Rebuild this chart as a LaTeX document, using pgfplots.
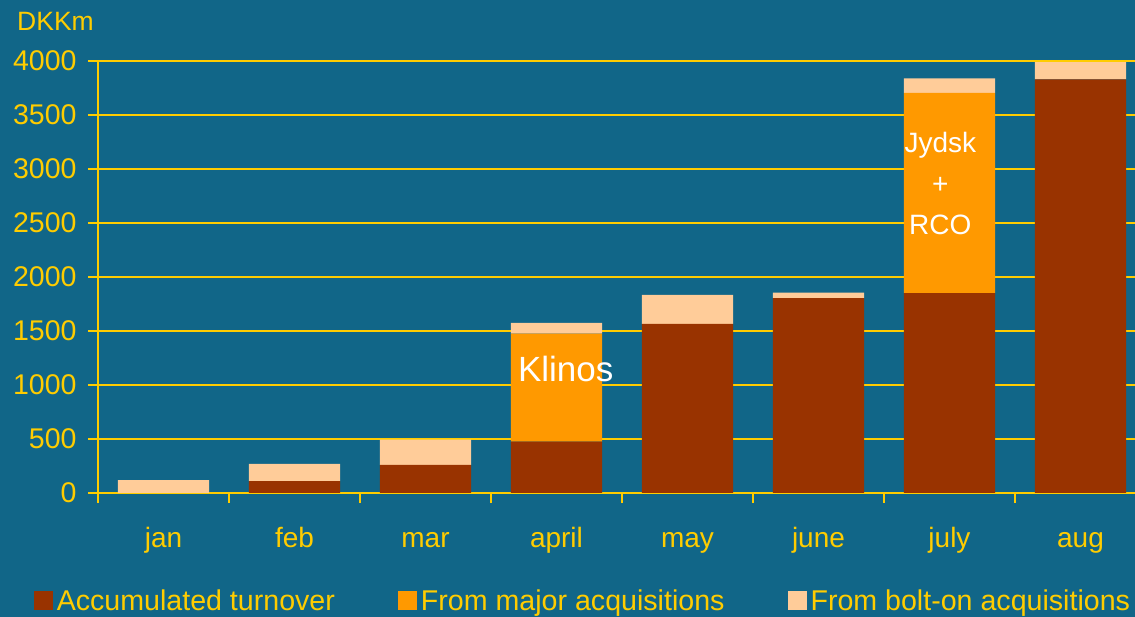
\documentclass[border=0pt]{standalone}
\usepackage{pgfplots}
\pgfplotsset{compat=1.18}
\usepackage{fontspec}
\setmainfont{Liberation Sans}
\definecolor{bg}{RGB}{17,102,136}
\definecolor{gold}{RGB}{255,204,0}
\definecolor{brn}{RGB}{153,51,0}
\definecolor{orng}{RGB}{255,153,0}
\definecolor{peach}{RGB}{255,204,153}
\begin{document}
\begin{tikzpicture}[x=1pt,y=1pt]
\path[use as bounding box] (0,0) rectangle (1135,617);
\fill[bg] (0,0) rectangle (1135,617);
\node[anchor=west, text=gold, font=\fontsize{26.5}{30}\selectfont, inner sep=0pt] at (17,596) {DKKm};
\begin{axis}[
  at={(98pt,124pt)}, anchor=south west,
  scale only axis, width=1048pt, height=432pt,
  xmin=-0.5, xmax=7.5, ymin=0, ymax=4000,
  ybar stacked, bar width=0.695,
  axis x line=bottom, axis y line=left,
  axis line style={gold, line width=2pt, -},
  ymajorgrids, grid style={gold, line width=2pt},
  ytick={0,500,...,4000},
  xtick={0,...,7},
  xticklabels={jan,feb,mar,april,may,june,july,aug},
  minor xtick={-0.5,0.5,...,7.5},
  major x tick style={draw=none},
  tick align=outside,
  major tick length=10pt, minor tick length=10pt,
  tick style={gold, line width=2pt},
  /pgf/number format/assume math mode=true,
  /pgf/number format/1000 sep={},
  yticklabel style={font=\fontsize{28.5}{30}\selectfont, text=gold, xshift=-8pt},
  xticklabel style={font=\fontsize{28}{30}\selectfont, text=gold, text height=21pt, text depth=6pt, yshift=-20pt},
  legend columns=3,
  legend style={at={(-0.061,-0.25)}, anchor=west, draw=none, fill=none,
    inner sep=0pt, font=\fontsize{28.6}{30}\selectfont, text=gold,
    nodes={inner xsep=3.5pt, inner ysep=0pt},
    /tikz/every even column/.append style={column sep=60pt}},
  legend image code/.code={\fill[#1] (0pt,-9.5pt) rectangle (19pt,9.5pt);},
]
\addplot[fill=brn, draw=none] coordinates {(0,0) (1,110) (2,260) (3,475) (4,1565) (5,1805) (6,1850) (7,3830)};
\addplot[fill=orng, draw=none] coordinates {(0,0) (1,0) (2,0) (3,1000) (4,0) (5,0) (6,1855) (7,0)};
\addplot[fill=peach, draw=none] coordinates {(0,120) (1,160) (2,235) (3,100) (4,270) (5,50) (6,135) (7,160)};
\legend{Accumulated turnover, From major acquisitions, From bolt-on acquisitions}
\coordinate (klinos) at (axis cs:3.07,1150);
\coordinate (jydsk) at (axis cs:5.93,2870);
\end{axis}
\node[text=white, font=\fontsize{35}{40}\selectfont, inner sep=0pt] at (klinos) {Klinos};
\node[text=white, font=\fontsize{28}{41}\selectfont, align=center, inner sep=0pt] at (jydsk) {Jydsk\\+\\RCO};
\end{tikzpicture}
\end{document}
